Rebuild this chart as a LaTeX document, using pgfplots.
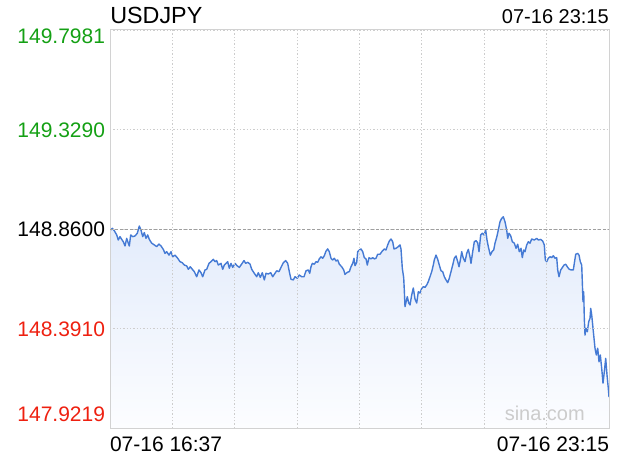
\documentclass[border=0pt]{standalone}
\usepackage{pgfplots}
\pgfplotsset{compat=1.18}
\usepackage{pgfplotstable}
\usepackage{fontspec}
\setmainfont{Liberation Sans}
\definecolor{linec}{RGB}{69,122,212}
\definecolor{filltop}{RGB}{226,235,251}
\definecolor{fillbot}{RGB}{252,253,255}
\definecolor{upc}{RGB}{20,160,20}
\definecolor{downc}{RGB}{238,32,16}
\definecolor{gridc}{RGB}{205,205,205}
\definecolor{borderc}{RGB}{210,210,210}
\pgfplotstableread{
x y
0 148.852
2.3 148.863
4.3 148.852
6.7 148.832
8.3 148.808
10 148.824
11.7 148.811
13.3 148.800
15 148.780
16.7 148.816
18.3 148.793
19.3 148.780
20.7 148.832
22.7 148.824
25 148.827
27.3 148.840
29.3 148.874
31 148.855
32.7 148.824
34.3 148.843
36 148.816
37.7 148.832
39.3 148.811
41.7 148.793
44.3 148.785
46.7 148.777
49 148.789
51 148.780
53.3 148.764
55 148.745
56.7 148.753
59 148.737
61 148.753
62.7 148.729
65 148.737
67.7 148.722
70 148.706
72.3 148.701
74.3 148.690
76.7 148.686
78.3 148.670
80.3 148.682
82.3 148.670
84.3 148.659
86.7 148.635
89 148.667
91 148.654
92.7 148.635
95 148.667
96.7 148.670
99 148.698
101 148.706
103.3 148.717
105 148.706
106.7 148.711
108.3 148.690
111 148.698
112.7 148.670
114.3 148.690
116 148.698
117.7 148.706
119.3 148.675
121 148.698
122.7 148.679
125 148.698
127.3 148.686
129.3 148.679
131.7 148.695
134 148.711
135.7 148.698
137.7 148.703
140 148.695
141.7 148.670
144.3 148.651
146.7 148.635
148.3 148.654
150.3 148.632
152.3 148.654
154.3 148.620
156 148.651
158.3 148.648
160.7 148.654
162.7 148.635
165 148.651
166.7 148.663
169 148.659
171 148.679
173.3 148.701
175.7 148.711
177.7 148.698
179.3 148.659
181 148.623
183.3 148.620
185 148.635
187.3 148.628
189.3 148.643
191.7 148.635
194 148.635
196 148.663
198.3 148.667
199.7 148.651
201 148.682
202.3 148.698
204.3 148.694
206 148.706
207.7 148.703
209.3 148.719
211 148.729
212.7 148.722
214.3 148.734
216 148.756
217.7 148.766
219.3 148.753
221 148.722
222.7 148.714
224.3 148.722
226 148.709
227.7 148.714
229.3 148.694
231.7 148.682
233.7 148.667
235 148.646
237.3 148.656
239.3 148.659
241 148.682
242.7 148.698
244 148.722
245 148.687
246.7 148.703
247.7 148.753
249.3 148.761
251 148.766
252.7 148.753
254.3 148.725
256 148.719
257.3 148.690
259 148.725
261 148.719
262.7 148.725
264.3 148.719
266 148.722
267.7 148.741
270 148.741
272.3 148.756
274.3 148.766
276 148.761
277.7 148.785
279.3 148.803
281 148.813
282.7 148.800
284 148.766
286 148.769
288.3 148.777
290 148.785
291 148.766
292.3 148.675
293.7 148.630
294.3 148.572
295 148.494
297.3 148.541
298.7 148.511
300 148.502
301.7 148.549
303.3 148.582
305 148.530
306.7 148.511
308.3 148.564
310 148.558
311.7 148.580
313.3 148.588
315 148.585
316.7 148.596
318.3 148.612
320 148.635
321.7 148.659
323.3 148.690
324.3 148.714
326 148.737
327.7 148.717
329.3 148.690
331 148.663
332.7 148.659
334.3 148.635
336 148.620
337.7 148.607
339.3 148.628
341 148.659
342.7 148.690
344.3 148.722
346 148.733
347.7 148.706
349 148.682
350.7 148.722
351.7 148.753
353.3 148.722
355 148.706
356.7 148.745
358.3 148.764
360 148.729
361 148.698
362.7 148.753
364.3 148.800
366 148.805
367.7 148.795
369 148.753
370.7 148.832
372.3 148.840
374 148.832
375.7 148.855
377 148.808
378.3 148.777
380.3 148.737
382 148.753
383.7 148.761
385 148.793
386.7 148.821
388.3 148.855
390 148.894
391.7 148.910
393.3 148.918
395 148.894
396.7 148.855
397.7 148.816
399 148.840
400.7 148.828
402.3 148.800
404.3 148.793
406 148.769
407.7 148.788
409.3 148.753
411 148.769
412.3 148.725
413.7 148.761
415 148.753
416.7 148.785
418.3 148.800
420 148.793
421.7 148.813
424.3 148.808
426.7 148.816
428.3 148.808
430.7 148.811
432.7 148.803
434.3 148.785
435.3 148.714
436.7 148.706
438.3 148.722
440 148.729
441.7 148.725
443.3 148.734
445 148.722
446.7 148.725
447.7 148.667
449 148.635
450.7 148.667
452.3 148.678
454 148.690
455.7 148.694
457.3 148.682
459 148.671
461 148.667
463.3 148.667
464.3 148.698
465.7 148.741
467.7 148.745
469 148.737
470.3 148.706
471.7 148.690
472.3 148.612
473 148.517
473.7 148.564
474.3 148.439
475 148.360
476 148.392
477.3 148.376
478.7 148.423
480 148.439
480.7 148.486
481.7 148.455
482.7 148.407
484 148.345
485 148.298
486.3 148.266
487.7 148.298
489 148.234
490.3 148.266
491.7 148.203
493 148.133
494.3 148.187
495.7 148.250
497 148.172
498.3 148.109
499 148.068
}\usdjpy
\begin{document}
\begin{tikzpicture}
\useasboundingbox (0,0) rectangle (465pt,345pt);
\begin{axis}[
  at={(82.5pt,24pt)}, anchor=south west,
  scale only axis, width=374.25pt, height=298.5pt,
  xmin=0, xmax=499, ymin=147.9219, ymax=149.7981,
  axis line style={draw=borderc, line width=0.75pt},
  axis on top,
  tick style={draw=none},
  xtick={0,62.375,124.75,187.125,249.5,311.875,374.25,436.625,499},
  xticklabels={\rlap{07-16 16:37},,,,,,,,\llap{07-16 23:15}},
  xticklabel style={inner sep=0pt, anchor=center, yshift=-12pt},
  x grid style={draw=gridc, line width=0.6pt, dash pattern=on 1pt off 1.5pt},
  ytick={147.9219,148.391,148.86,149.329,149.7981},
  yticklabels={
    \llap{\raisebox{5.25pt}[0pt][0pt]{\textcolor{downc}{147.9219}}},
    \llap{\raisebox{-6pt}[0pt][0pt]{\textcolor{downc}{148.3910}}},
    \llap{\raisebox{-6pt}[0pt][0pt]{\textcolor{black}{148.8600}}},
    \llap{\raisebox{-6pt}[0pt][0pt]{\textcolor{upc}{149.3290}}},
    \llap{\raisebox{-10.5pt}[0pt][0pt]{\textcolor{upc}{149.7981}}}},
  yticklabel style={inner sep=0pt, anchor=center, xshift=-3.75pt},
  y grid style={draw=gridc, line width=0.6pt, dash pattern=on 1pt off 1.5pt},
  extra y ticks={148.86},
  extra y tick labels={},
  extra y tick style={grid=major, y grid style={draw=gray!75, line width=0.6pt, dash pattern=on 2.2pt off 1.5pt}},
  grid=major,
  ticklabel style={font=\fontsize{15.75pt}{18pt}\selectfont},
  clip=true,
]
\addplot[draw=none, top color=filltop, bottom color=fillbot] table[x=x,y=y]{\usdjpy} -- (axis cs:499,147.9219) -- (axis cs:0,147.9219) -- cycle;
\addplot[color=linec, line width=1.05pt, mark=none, line join=round] table[x=x,y=y]{\usdjpy};
\node[anchor=base east, inner sep=0pt, text=gray!40, font=\fontsize{15pt}{18pt}\selectfont] at (rel axis cs:0.952,0.02) {sina.com};
\end{axis}
\node[anchor=base west, inner sep=0pt, font=\fontsize{17.5pt}{20pt}\selectfont] at (82.5pt,327pt) {USDJPY};
\node[anchor=base east, inner sep=0pt, font=\fontsize{15pt}{18pt}\selectfont] at (456.75pt,327pt) {07-16 23:15};
\end{tikzpicture}
\end{document}
